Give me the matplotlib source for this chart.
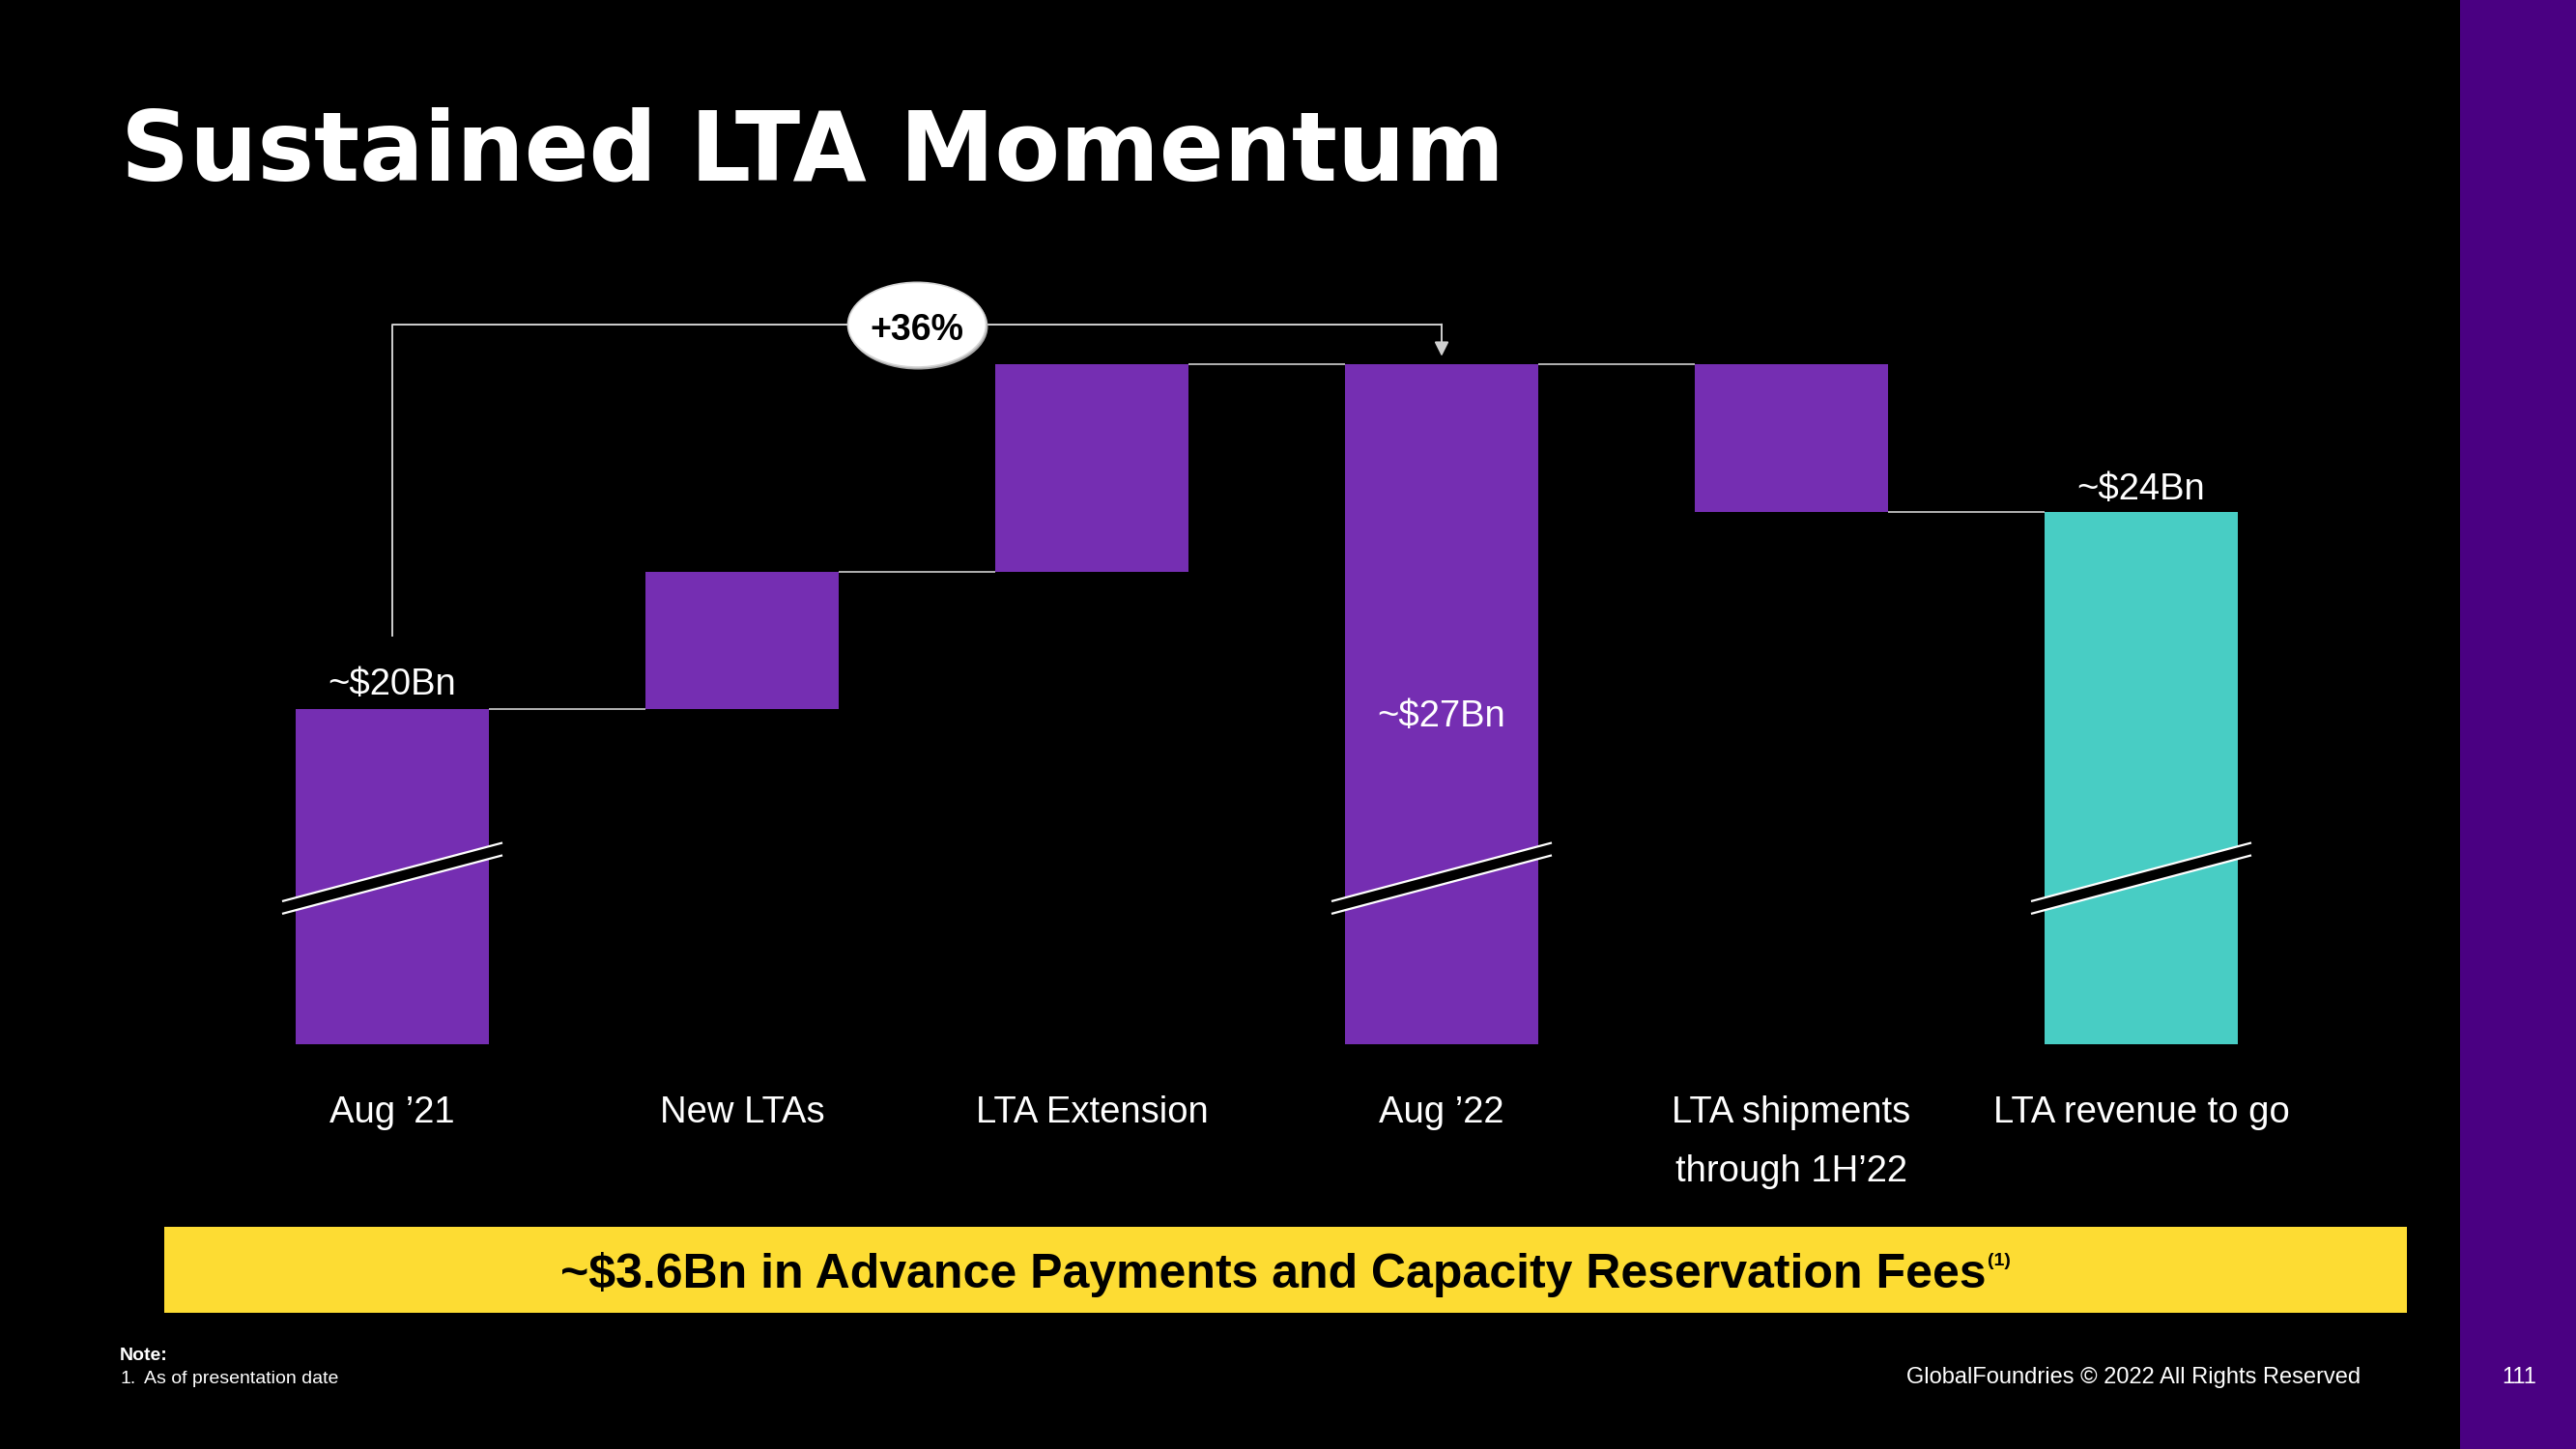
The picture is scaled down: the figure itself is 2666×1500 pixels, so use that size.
import matplotlib
matplotlib.use("Agg")
import matplotlib.pyplot as plt
from matplotlib.patches import Ellipse, Rectangle, Polygon
import numpy as np

plt.rcParams['font.family'] = ['Liberation Sans', 'DejaVu Sans']

# ---------------- data ----------------
categories = ["Aug \u201921", "New LTAs", "LTA Extension", "Aug \u201922",
              "LTA shipments\nthrough 1H\u201922", "LTA revenue to go"]
amounts = [20.0, 2.8, 4.2, 27.0, -3.0, 24.0]          # $Bn
kinds = ["total", "delta", "delta", "total", "delta", "total"]
value_labels = ["~$20Bn", "", "", "~$27Bn", "", "~$24Bn"]
growth_label = "+36%"
banner_text = "~$3.6Bn in Advance Payments and Capacity Reservation Fees"
banner_note = "(1)"
title = "Sustained LTA Momentum"

# ---------------- style ----------------
PURPLE = "#752EB2"
TEAL = "#48CDC4"
YELLOW = "#FDDC33"
STRIP = "#4A0082"
CONNECT = "#d0d0d0"
bar_colors = [PURPLE, PURPLE, PURPLE, PURPLE, PURPLE, TEAL]
broken = [True, False, False, True, False, True]

W, H = 2666, 1500
fig = plt.figure(figsize=(W / 100, H / 100), dpi=100)
fig.patch.set_facecolor("black")

# right purple strip
fig.add_artist(Rectangle((2546 / W, 0), 1 - 2546 / W, 1, transform=fig.transFigure,
                         facecolor=STRIP, edgecolor="none", zorder=0))

# ---------------- waterfall ----------------
ax = fig.add_axes([225 / W, 1 - 1081 / H, 2172 / W, (1081 - 250) / H])
ax.set_facecolor("black")
ax.set_xlim(-0.5, 5.5)
ax.set_ylim(13.2, 29.5)
ax.axis("off")

x = np.arange(len(categories))
bottoms, heights, levels = [], [], []
run = 0.0
for amt, kind in zip(amounts, kinds):
    if kind == "total":
        bottoms.append(0.0)
        heights.append(amt)
        run = amt
    else:
        bottoms.append(min(run, run + amt))
        heights.append(abs(amt))
        run = run + amt
    levels.append(run)
tops = [b + h for b, h in zip(bottoms, heights)]

BW = 0.555
ax.bar(x, heights, bottom=bottoms, width=BW, color=bar_colors, linewidth=0, zorder=2)

# connectors
for i in range(len(x) - 1):
    ax.plot([x[i] + BW / 2, x[i + 1] - BW / 2], [levels[i], levels[i]],
            color=CONNECT, lw=1.2, zorder=1, solid_capstyle="butt")

# axis-break marks
BREAK_Y = 16.57
BREAK_SLOPE = 1.885
BREAK_HALF = 0.127
BREAK_EXT = 0.312
for i, b in enumerate(broken):
    if not b:
        continue
    xs = np.array([x[i] - BREAK_EXT, x[i] + BREAK_EXT])
    yc = BREAK_Y + BREAK_SLOPE * (xs - x[i])
    poly = Polygon([[xs[0], yc[0] + BREAK_HALF], [xs[1], yc[1] + BREAK_HALF],
                    [xs[1], yc[1] - BREAK_HALF], [xs[0], yc[0] - BREAK_HALF]],
                   closed=True, facecolor="black", edgecolor="none", zorder=3)
    ax.add_patch(poly)
    ax.plot(xs, yc + BREAK_HALF, color="white", lw=1.6, zorder=4)
    ax.plot(xs, yc - BREAK_HALF, color="white", lw=1.6, zorder=4)

# value labels (offsets in points)
label_offsets = [11, 0, 0, -269.5, 0, 10]
for i, lab in enumerate(value_labels):
    if lab:
        ax.annotate(lab, xy=(x[i], tops[i]), xytext=(0, label_offsets[i]),
                    textcoords="offset points", ha="center", va="baseline",
                    color="white", fontsize=27.5, zorder=5)

# category labels
line_offsets = [-58.5, -102.5]
for i, cat in enumerate(categories):
    for k, line in enumerate(cat.split("\n")):
        ax.annotate(line, xy=(x[i], 0), xycoords=("data", "axes fraction"),
                    xytext=(0, line_offsets[k]), textcoords="offset points",
                    ha="center", va="baseline", color="white", fontsize=27.5,
                    annotation_clip=False)

# +36% bracket
BR_BOTTOM = 21.5
BR_Y = 27.81
ARROW_TIP = 27.17
i0, i1 = 0, 3
ax.plot([x[i0], x[i0], x[i1]], [BR_BOTTOM, BR_Y, BR_Y], color=CONNECT, lw=1.4, zorder=5)
ax.annotate("", xy=(x[i1], ARROW_TIP), xytext=(x[i1], BR_Y + 0.01),
            arrowprops=dict(arrowstyle="-|>", color=CONNECT, lw=1.4,
                            mutation_scale=22, shrinkA=0, shrinkB=0), zorder=5)
ex = (x[i0] + x[i1]) / 2
ax.add_patch(Ellipse((ex + 0.003, BR_Y - 0.035), width=0.40, height=1.75,
                     facecolor="#a8a8a8", edgecolor="none", zorder=6))
ax.add_patch(Ellipse((ex, BR_Y), width=0.395, height=1.72, facecolor="white",
                     edgecolor="#d4d4d4", lw=1.2, zorder=6))
ax.annotate(growth_label, xy=(ex, BR_Y), xytext=(0, -4.3), textcoords="offset points",
            ha="center", va="center", fontsize=27, fontweight="bold",
            color="black", zorder=7)

# ---------------- title ----------------
fig.text(125 / W, 1 - 186 / H, title, ha="left", va="baseline", fontsize=71,
         fontweight="bold", color="white", family="DejaVu Sans")

# ---------------- banner ----------------
bx0, bx1, by0, by1 = 170, 2491, 1270, 1359
fig.add_artist(Rectangle((bx0 / W, 1 - by1 / H), (bx1 - bx0) / W, (by1 - by0) / H,
                         transform=fig.transFigure, facecolor=YELLOW,
                         edgecolor="none", zorder=1))
renderer = fig.canvas.get_renderer()
cy = 1 - 1319.5 / H
t_main = fig.text(0.5, cy, banner_text, ha="left", va="center", fontsize=36,
                  fontweight="bold", color="black", zorder=2)
t_sup = fig.text(0.5, cy + 14 / H, banner_note, ha="left", va="center", fontsize=14,
                 fontweight="bold", color="black", zorder=2)
w_main = t_main.get_window_extent(renderer).width
w_sup = t_sup.get_window_extent(renderer).width
total = w_main + w_sup + 2
center = (bx0 + bx1) / 2
start = center - total / 2
t_main.set_x(start / W)
t_sup.set_x((start + w_main + 2) / W)

# ---------------- footer ----------------
fig.text(124 / W, 1 - 1403 / H, "Note:", ha="left", va="center", fontsize=14,
         fontweight="bold", color="white")
fig.text(124 / W, 1 - 1427 / H, "1.", ha="left", va="center", fontsize=14, color="white")
fig.text(149 / W, 1 - 1427 / H, "As of presentation date", ha="left", va="center",
         fontsize=14, color="white")
fig.text(2443 / W, 1 - 1426 / H, "GlobalFoundries \u00a9 2022 All Rights Reserved",
         ha="right", va="center", fontsize=17, color="white")
fig.text(2607 / W, 1 - 1426 / H, "111", ha="center", va="center", fontsize=17,
         color="white")

fig.savefig("out.png", dpi=100, facecolor=fig.get_facecolor())
